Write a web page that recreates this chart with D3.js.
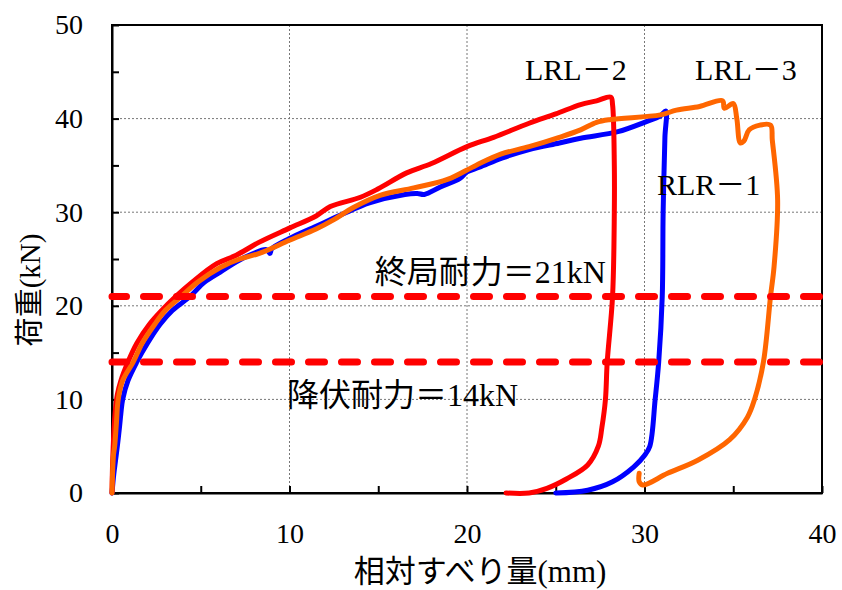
<!DOCTYPE html>
<html lang="ja">
<head>
<meta charset="UTF-8">
<title>荷重－相対すべり量</title>
<script src="https://cdnjs.cloudflare.com/ajax/libs/d3/7.8.5/d3.min.js"></script>
<style>
    body { margin: 0; background: #fff; }
    svg text { font-family: "Liberation Serif", "Noto Sans CJK JP", serif; fill: #000; }
    .grid line { stroke: #777; stroke-width: 1; stroke-dasharray: 2,2; }
    .axis path, .axis line { stroke: #000; stroke-width: 2; }
    .curve { fill: none; stroke-width: 5; stroke-linejoin: round; stroke-linecap: round; }
</style>
</head>
<body>
<div id="chart"></div>
<script>
// axis ticks
const xTicks = [0, 5, 10, 15, 20, 25, 30, 35, 40];
const yTicks = [0, 5, 10, 15, 20, 25, 30, 35, 40, 45, 50];
const xGrid = [10, 20, 30];
const yGrid = [10, 20, 30, 40];

// reference capacities (kN)
const limitNames = ['終局耐力＝21kN', '降伏耐力＝14kN'];
const limitValues = [21, 14];

// specimens: [slip mm, load kN]
const seriesNames = ['RLR－1', 'LRL－2', 'LRL－3'];
const rlr1 = [
    [0, 0], [0.1, 2], [0.2, 3.5], [0.3, 5], [0.42, 7], [0.5, 8.5], [0.6, 10], [0.9, 12],
    [1.4, 14], [2.0, 16], [2.7, 18], [3.4, 19.5], [4.4, 21], [5.2, 22.5], [6.1, 23.6],
    [7.4, 25.1], [8.7, 26.0], [8.9, 25.6], [9.0, 26.1], [10.0, 27.2], [11.5, 28.5],
    [13, 29.8], [14.5, 31.0], [16.5, 31.9], [17.2, 32.0], [17.6, 31.9], [18.5, 32.7],
    [19.6, 33.6], [20.0, 34.3], [20.7, 34.8], [22, 35.8], [23.5, 36.7], [25.2, 37.4],
    [26.4, 37.9], [28.5, 38.6], [30, 39.6], [30.9, 40.3], [31.2, 40.8], [31.15, 38],
    [31.05, 30], [31.0, 21], [30.8, 14], [30.6, 10], [30.3, 5], [30.0, 4], [29.4, 2.8],
    [28.2, 1.2], [26.8, 0.3], [25.0, 0]
];
const lrl2 = [
    [0, 0], [0.03, 3], [0.07, 5], [0.12, 7], [0.2, 9], [0.3, 10.5], [0.5, 12], [0.9, 14],
    [1.4, 16], [2.1, 18], [2.8, 19.5], [3.6, 21], [4.5, 22.5], [5.9, 24.5], [7.0, 25.4],
    [8.3, 26.8], [10.0, 28.3], [11.5, 29.6], [12.3, 30.6], [14, 31.6], [15, 32.5],
    [16.6, 34.2], [18, 35.2], [20, 37.0], [21.5, 38.0], [23.5, 39.5], [25, 40.5],
    [26.4, 41.5], [27.3, 41.9], [28.1, 42.3], [28.2, 41.5], [28.3, 35], [28.3, 30],
    [28.2, 21], [27.9, 14], [27.8, 10], [27.6, 7], [27.4, 5], [26.8, 3], [25.6, 1.5],
    [24.5, 0.5], [23.5, 0], [22.2, 0]
];
const lrl3 = [
    [0, 0], [0.03, 2], [0.08, 4], [0.15, 5], [0.25, 7.5], [0.35, 10], [0.6, 12], [1.2, 14],
    [1.7, 16], [2.4, 18], [3.0, 19.5], [3.9, 21], [4.8, 22.5], [6.1, 24.1], [7.2, 25.0],
    [8.3, 25.6], [10.0, 27.0], [11.5, 28.2], [12.5, 29.2], [13.6, 30.5], [15.1, 31.8],
    [17, 32.6], [18.9, 33.5], [20.5, 35.0], [21.9, 36.2], [23.5, 37.0], [25.2, 38.0],
    [26.4, 38.8], [27.3, 39.6], [28.1, 39.9], [30.9, 40.4], [31.8, 40.9], [33.1, 41.3],
    [34.4, 41.9], [34.5, 41.1], [35.0, 41.6], [35.2, 40], [35.4, 37.4], [35.6, 37.6],
    [35.9, 38.8], [36.5, 39.3], [37.1, 39.3], [37.2, 37.7], [37.5, 31.3], [37.3, 24.2],
    [37.1, 21], [36.7, 14], [36.2, 10], [35.8, 8.1], [34.8, 5.7], [33.0, 3.5], [31.3, 2.1],
    [29.9, 0.85], [29.7, 1.2], [29.7, 2.1]
];
const seriesData = [rlr1, lrl2, lrl3];
const seriesColors = ['#0000ff', '#ff0000', '#ff6600'];

function draw() {
    const W = 842, H = 590;
    const m = {left: 112, top: 25, right: 20, bottom: 97};
    const w = W - m.left - m.right, h = H - m.top - m.bottom;

    const svg = d3.select('#chart').append('svg')
        .attr('width', W).attr('height', H);
    const g = svg.append('g').attr('transform', `translate(${m.left},${m.top})`);

    const x = d3.scaleLinear().domain([0, 40]).range([0, w]);
    const y = d3.scaleLinear().domain([0, 50]).range([h, 0]);

    // grid
    const grid = g.append('g').attr('class', 'grid');
    grid.selectAll('.gy').data(yGrid).enter().append('line')
        .attr('x1', 0).attr('x2', w)
        .attr('y1', d => y(d)).attr('y2', d => y(d));
    grid.selectAll('.gx').data(xGrid).enter().append('line')
        .attr('y1', 0).attr('y2', h)
        .attr('x1', d => x(d)).attr('x2', d => x(d));

    // axes, ticks pointing inside
    const fmt = d => d % 10 === 0 ? d : '';
    const yAxis = g.append('g').attr('class', 'axis')
        .call(d3.axisLeft(y).tickValues(yTicks).tickSizeInner(-7).tickSizeOuter(0)
            .tickPadding(29).tickFormat(fmt));
    const xAxis = g.append('g').attr('class', 'axis')
        .attr('transform', `translate(0,${h})`)
        .call(d3.axisBottom(x).tickValues(xTicks).tickSizeInner(-7).tickSizeOuter(0)
            .tickPadding(30).tickFormat(fmt));
    [yAxis, xAxis].forEach(a => a.selectAll('text').style('font-size', '28px'));

    // frame
    g.append('rect').attr('width', w).attr('height', h)
        .attr('fill', 'none').attr('stroke', '#000').attr('stroke-width', 2);

    // curves
    const line = d3.line().curve(d3.curveCatmullRom.alpha(0.5))
        .x(d => x(d[0])).y(d => y(d[1]));
    seriesData.forEach((s, i) => {
        g.append('path').attr('class', 'curve')
            .attr('d', line(s))
            .attr('stroke', seriesColors[i]);
    });

    // capacity lines
    g.selectAll('.limit').data(limitValues).enter().append('line')
        .attr('x1', 0).attr('x2', w)
        .attr('y1', d => y(d)).attr('y2', d => y(d))
        .attr('stroke', '#ff0000').attr('stroke-width', 7)
        .attr('stroke-linecap', 'round')
        .attr('stroke-dasharray', '16,17').attr('stroke-dashoffset', 1.5);

    // annotations [text, slip, load, size]
    const notes = [
        [seriesNames[1], 23.27, 44.1, 30],
        [seriesNames[2], 32.85, 44.1, 30],
        [seriesNames[0], 30.7, 31.8, 30],
        [limitNames[0], 14.8, 22.4, 32],
        [limitNames[1], 9.86, 9.3, 32]
    ];
    g.selectAll('.note').data(notes).enter().append('text')
        .attr('x', d => x(d[1])).attr('y', d => y(d[2]))
        .style('font-size', d => d[3] + 'px')
        .text(d => d[0]);

    // axis titles
    svg.append('text')
        .attr('transform', 'translate(40,290) rotate(-90)')
        .attr('text-anchor', 'middle')
        .style('font-size', '29px')
        .text('荷重(kN)');
    svg.append('text')
        .attr('x', 480).attr('y', 582)
        .attr('text-anchor', 'middle')
        .style('font-size', '31px')
        .text('相対すべり量(mm)');
}

document.addEventListener('DOMContentLoaded', draw);
</script>
</body>
</html>
